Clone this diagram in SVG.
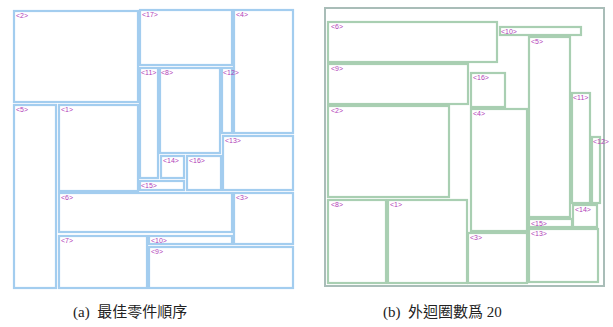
<svg xmlns="http://www.w3.org/2000/svg" width="613" height="327" viewBox="0 0 613 327">
<style>
.b{fill:#fff;stroke:#a3cdef;stroke-width:2.2}
.g{fill:#fff;stroke:#a9cfb2;stroke-width:2.2}
.o{fill:#fff;stroke:#a9bdb8;stroke-width:2}
.l{font-family:"Liberation Sans",Arial,sans-serif;font-size:7px;fill:#b13db8}
.c{font-family:"Liberation Serif","Noto Sans CJK TC",serif;font-size:15px;fill:#222}
</style>
<rect width="613" height="327" fill="#fff"/>
<g id="left">
<g id="a2"><rect class="b" x="14" y="11" width="124" height="91"/><text class="l" x="16" y="18">&lt;2&gt;</text></g>
<g id="a17"><rect class="b" x="140" y="10" width="92" height="55"/><text class="l" x="142" y="17">&lt;17&gt;</text></g>
<g id="a4"><rect class="b" x="234" y="10" width="59" height="123"/><text class="l" x="236" y="17">&lt;4&gt;</text></g>
<g id="a5"><rect class="b" x="14" y="105" width="42" height="183"/><text class="l" x="16" y="112">&lt;5&gt;</text></g>
<g id="a1"><rect class="b" x="59" y="105" width="79" height="86"/><text class="l" x="61" y="112">&lt;1&gt;</text></g>
<g id="a11"><rect class="b" x="140" y="68" width="18" height="110"/><text class="l" x="141" y="75">&lt;11&gt;</text></g>
<g id="a8"><rect class="b" x="160" y="68" width="60" height="85"/><text class="l" x="161" y="75">&lt;8&gt;</text></g>
<g id="a12"><rect class="b" x="222" y="68" width="10" height="65"/><text class="l" x="223" y="75">&lt;12&gt;</text></g>
<g id="a13"><rect class="b" x="223" y="136" width="70" height="54"/><text class="l" x="225" y="143">&lt;13&gt;</text></g>
<g id="a14"><rect class="b" x="161" y="156" width="23" height="22"/><text class="l" x="163" y="163">&lt;14&gt;</text></g>
<g id="a16"><rect class="b" x="187" y="156" width="34" height="34"/><text class="l" x="189" y="163">&lt;16&gt;</text></g>
<g id="a15"><rect class="b" x="140" y="181" width="44" height="9"/><text class="l" x="141" y="188">&lt;15&gt;</text></g>
<g id="a6"><rect class="b" x="59" y="193" width="173" height="39"/><text class="l" x="61" y="200">&lt;6&gt;</text></g>
<g id="a3"><rect class="b" x="234" y="193" width="59" height="51"/><text class="l" x="236" y="200">&lt;3&gt;</text></g>
<g id="a7"><rect class="b" x="59" y="236" width="88" height="52"/><text class="l" x="61" y="243">&lt;7&gt;</text></g>
<g id="a10"><rect class="b" x="149" y="236" width="83" height="8"/><text class="l" x="151" y="243">&lt;10&gt;</text></g>
<g id="a9"><rect class="b" x="149" y="247" width="144" height="41"/><text class="l" x="151" y="254">&lt;9&gt;</text></g>
</g>
<g id="right">
<g id="outer"><rect class="o" x="325" y="8" width="279" height="278"/></g>
<g id="b6"><rect class="g" x="328" y="22" width="169" height="40"/><text class="l" x="331" y="29">&lt;6&gt;</text></g>
<g id="b10"><rect class="g" x="500" y="27" width="81" height="8"/><text class="l" x="501" y="34">&lt;10&gt;</text></g>
<g id="b9"><rect class="g" x="328" y="64" width="140" height="40"/><text class="l" x="331" y="71">&lt;9&gt;</text></g>
<g id="b5"><rect class="g" x="529" y="37" width="41" height="180"/><text class="l" x="531" y="44">&lt;5&gt;</text></g>
<g id="b16"><rect class="g" x="471" y="73" width="34" height="34"/><text class="l" x="473" y="80">&lt;16&gt;</text></g>
<g id="b2"><rect class="g" x="328" y="106" width="121" height="91"/><text class="l" x="331" y="113">&lt;2&gt;</text></g>
<g id="b4"><rect class="g" x="471" y="109" width="56" height="122"/><text class="l" x="473" y="116">&lt;4&gt;</text></g>
<g id="b11"><rect class="g" x="572" y="93" width="18" height="110"/><text class="l" x="573" y="100">&lt;11&gt;</text></g>
<g id="b12"><rect class="g" x="592" y="137" width="8" height="66"/><text class="l" x="593" y="144">&lt;12&gt;</text></g>
<g id="b8"><rect class="g" x="328" y="200" width="58" height="83"/><text class="l" x="331" y="207">&lt;8&gt;</text></g>
<g id="b1"><rect class="g" x="388" y="200" width="79" height="83"/><text class="l" x="390" y="207">&lt;1&gt;</text></g>
<g id="b14"><rect class="g" x="573" y="205" width="24" height="22"/><text class="l" x="575" y="212">&lt;14&gt;</text></g>
<g id="b15"><rect class="g" x="529" y="219" width="43" height="8"/><text class="l" x="531" y="226">&lt;15&gt;</text></g>
<g id="b13"><rect class="g" x="529" y="229" width="69" height="53"/><text class="l" x="531" y="236">&lt;13&gt;</text></g>
<g id="b3"><rect class="g" x="468" y="233" width="59" height="50"/><text class="l" x="470" y="240">&lt;3&gt;</text></g>
</g>
<g id="captions">
<text class="c" x="73" y="317" xml:space="preserve">(a)  最佳零件順序</text>
<text class="c" x="383" y="317" xml:space="preserve">(b)  外迴圈數爲 20</text>
</g>
</svg>
